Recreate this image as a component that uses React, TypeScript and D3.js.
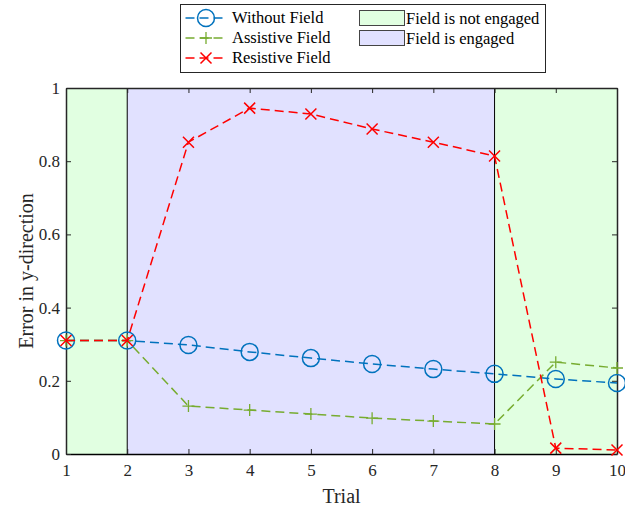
import React, { useEffect, useRef } from 'react';
import * as d3 from 'd3';

const trials = [1, 2, 3, 4, 5, 6, 7, 8, 9, 10];
const withoutField = [0.31, 0.31, 0.298, 0.279, 0.262, 0.246, 0.232, 0.219, 0.205, 0.194];
const assistiveField = [0.31, 0.31, 0.131, 0.12, 0.109, 0.098, 0.09, 0.082, 0.251, 0.235];
const resistiveField = [0.31, 0.31, 0.852, 0.945, 0.929, 0.888, 0.852, 0.814, 0.016, 0.011];
const yTicks = [0, 0.2, 0.4, 0.6, 0.8, 1];
const regions = [
  { from: 1, to: 2, engaged: false },
  { from: 2, to: 8, engaged: true },
  { from: 8, to: 10, engaged: false },
];
const series = [
  { name: 'Without Field', values: withoutField, color: '#0072BD', marker: 'circle' },
  { name: 'Assistive Field', values: assistiveField, color: '#77AC30', marker: 'plus' },
  { name: 'Resistive Field', values: resistiveField, color: '#FF0000', marker: 'x' },
];

const FONT = '"Liberation Serif", "Times New Roman", serif';
const NOT_ENGAGED = '#e1ffe1';
const ENGAGED = '#e1e1ff';

function drawMarker(g: any, kind: string, cx: number, cy: number, color: string) {
  if (kind === 'circle') {
    g.append('circle').attr('cx', cx).attr('cy', cy).attr('r', 8.5)
      .attr('fill', 'none').attr('stroke', color).attr('stroke-width', 1.5);
  } else if (kind === 'plus') {
    const s = 6;
    g.append('path').attr('d', `M${cx - s},${cy}H${cx + s}M${cx},${cy - s}V${cy + s}`)
      .attr('stroke', color).attr('stroke-width', 1.3).attr('fill', 'none');
  } else {
    const s = 5.5;
    g.append('path')
      .attr('d', `M${cx - s},${cy - s}L${cx + s},${cy + s}M${cx - s},${cy + s}L${cx + s},${cy - s}`)
      .attr('stroke', color).attr('stroke-width', 1.5).attr('fill', 'none');
  }
}

export default function App() {
  const ref = useRef<SVGSVGElement>(null);

  useEffect(() => {
    if (!ref.current) return;
    const width = 625;
    const height = 508;
    const margin = { top: 88, right: 8, bottom: 54, left: 66 };

    const svg = d3.select(ref.current).attr('width', width).attr('height', height);
    svg.selectAll('*').remove();

    const x = d3.scaleLinear().domain([1, 10]).range([margin.left, width - margin.right]);
    const y = d3.scaleLinear().domain([0, 1]).range([height - margin.bottom, margin.top]);

    // background regions
    svg.append('g').selectAll('rect')
      .data(regions)
      .join('rect')
      .attr('x', d => x(d.from))
      .attr('y', y(1))
      .attr('width', d => x(d.to) - x(d.from))
      .attr('height', y(0) - y(1))
      .attr('fill', d => (d.engaged ? ENGAGED : NOT_ENGAGED))
      .attr('stroke', 'none');

    // region borders
    svg.append('g').selectAll('line')
      .data([2, 8])
      .join('line')
      .attr('x1', d => x(d)).attr('x2', d => x(d))
      .attr('y1', y(0)).attr('y2', y(1))
      .attr('stroke', '#000').attr('stroke-width', 1);

    // axes (MATLAB style, ticks inward, box on)
    const tickLen = 5;
    const axisColor = '#262626';
    const bottom = svg.append('g')
      .attr('transform', `translate(0,${y(0)})`)
      .call(d3.axisBottom(x).tickValues(trials).tickSize(-tickLen).tickSizeOuter(0).tickPadding(10).tickFormat(d3.format('d')));
    const left = svg.append('g')
      .attr('transform', `translate(${x(1)},0)`)
      .call(d3.axisLeft(y).tickValues(yTicks).tickSize(-tickLen).tickSizeOuter(0).tickPadding(6).tickFormat(d => (d === 0 || d === 1 ? String(d) : d3.format('.1f')(d as number))));
    const top = svg.append('g')
      .attr('transform', `translate(0,${y(1)})`)
      .call(d3.axisTop(x).tickValues(trials).tickSize(-tickLen).tickSizeOuter(0).tickFormat(() => ''));
    const right = svg.append('g')
      .attr('transform', `translate(${x(10)},0)`)
      .call(d3.axisRight(y).tickValues(yTicks).tickSize(-tickLen).tickSizeOuter(0).tickFormat(() => ''));

    [bottom, left, top, right].forEach(a => {
      a.attr('font-family', FONT).attr('font-size', 17);
      a.select('.domain').attr('stroke', axisColor).attr('stroke-width', 1.5);
      a.selectAll('.tick line').attr('stroke', axisColor).attr('stroke-width', 1);
      a.selectAll('text').attr('fill', axisColor);
    });
    bottom.select('.domain').attr('stroke', '#000');

    // series lines
    const line = d3.line<number>()
      .x((_, i) => x(trials[i]))
      .y(d => y(d));

    series.forEach(s => {
      const g = svg.append('g');
      g.append('path')
        .datum(s.values)
        .attr('d', line)
        .attr('fill', 'none')
        .attr('stroke', s.color)
        .attr('stroke-width', 1.5)
        .attr('stroke-dasharray', '9,5');
      s.values.forEach((v, i) => drawMarker(g, s.marker, x(trials[i]), y(v), s.color));
    });

    // axis labels
    svg.append('text')
      .attr('x', (x(1) + x(10)) / 2).attr('y', 503)
      .attr('text-anchor', 'middle')
      .attr('font-family', FONT).attr('font-size', 20).attr('fill', axisColor)
      .text('Trial');
    svg.append('text')
      .attr('transform', `translate(33,${(y(0) + y(1)) / 2}) rotate(-90)`)
      .attr('text-anchor', 'middle')
      .attr('font-family', FONT).attr('font-size', 20).attr('fill', axisColor)
      .text('Error in y-direction');

    // legend
    const lg = svg.append('g');
    lg.append('rect')
      .attr('x', 180.5).attr('y', 4.5).attr('width', 365).attr('height', 68)
      .attr('fill', '#fff').attr('stroke', '#262626').attr('stroke-width', 1);
    series.forEach((s, i) => {
      const cy = 18 + i * 20;
      lg.append('line')
        .attr('x1', 185).attr('x2', 227).attr('y1', cy).attr('y2', cy)
        .attr('stroke', s.color).attr('stroke-width', 1.5).attr('stroke-dasharray', '9,5')
        .attr('stroke-dashoffset', -0.5);
      drawMarker(lg, s.marker, 206, cy, s.color);
      lg.append('text')
        .attr('x', 232).attr('y', cy + 5)
        .attr('font-family', FONT).attr('font-size', 16.5).attr('fill', '#000')
        .text(s.name);
    });
    const patches = [
      { label: 'Field is not engaged', fill: NOT_ENGAGED },
      { label: 'Field is engaged', fill: ENGAGED },
    ];
    patches.forEach((p, i) => {
      const ty = 10.5 + i * 20;
      lg.append('rect')
        .attr('x', 359.5).attr('y', ty).attr('width', 45).attr('height', 15)
        .attr('fill', p.fill).attr('stroke', '#444').attr('stroke-width', 1);
      lg.append('text')
        .attr('x', 406).attr('y', ty + 13)
        .attr('font-family', FONT).attr('font-size', 16.5).attr('fill', '#000')
        .text(p.label);
    });
  }, []);

  return (
    <svg ref={ref} style={{ position: 'absolute', left: 0, top: 0, background: '#fff' }}></svg>
  );
}
